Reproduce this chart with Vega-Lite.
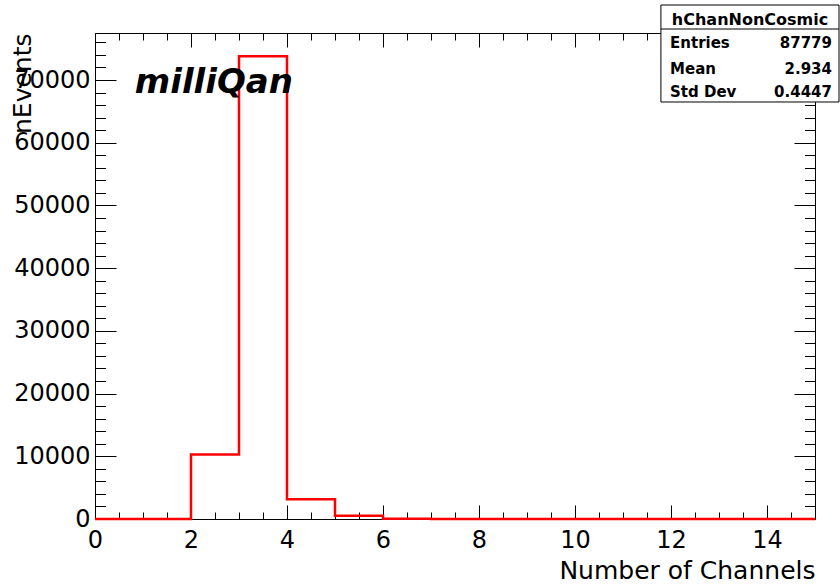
{
  "$schema": "https://vega.github.io/schema/vega-lite/v6.json",
  "width": 720,
  "height": 486,
  "autosize": {"type": "none"},
  "padding": {"left": 95, "top": 33, "right": 25, "bottom": 65},
  "background": "white",
  "config": {
    "font": "DejaVu Sans",
    "view": {"stroke": null},
    "axis": {
      "domainColor": "black",
      "domainWidth": 1,
      "ticks": true,
      "tickColor": "black",
      "tickWidth": 1,
      "labelColor": "black",
      "titleColor": "black",
      "grid": false,
      "labelFont": "DejaVu Sans",
      "titleFont": "DejaVu Sans",
      "titleFontWeight": "normal",
      "labelFontSize": 24,
      "titleFontSize": 25,
      "labelOverlap": false,
      "labelFlush": false
    }
  },
  "datasets": {
    "hist": [
      {"lo": 0, "n": 0},
      {"lo": 1, "n": 0},
      {"lo": 2, "n": 10300},
      {"lo": 3, "n": 73800},
      {"lo": 4, "n": 3150},
      {"lo": 5, "n": 500},
      {"lo": 6, "n": 29},
      {"lo": 7, "n": 0},
      {"lo": 8, "n": 0},
      {"lo": 9, "n": 0},
      {"lo": 10, "n": 0},
      {"lo": 11, "n": 0},
      {"lo": 12, "n": 0},
      {"lo": 13, "n": 0},
      {"lo": 14, "n": 0},
      {"lo": 15, "n": 0}
    ],
    "stats": [
      {"stat": "Entries", "val": "87779"},
      {"stat": "Mean", "val": "2.934"},
      {"stat": "Std Dev", "val": "0.4447"}
    ]
  },
  "resolve": {"axis": {"x": "independent", "y": "independent"}},
  "layer": [
    {
      "data": {"name": "hist"},
      "mark": {"type": "line", "interpolate": "step-after", "color": "#ff0000", "strokeWidth": 2.5},
      "encoding": {
        "x": {
          "field": "lo",
          "type": "quantitative",
          "scale": {"domain": [0, 15], "nice": false, "zero": false},
          "axis": {
            "orient": "bottom",
            "values": [0, 0.5, 1, 1.5, 2, 2.5, 3, 3.5, 4, 4.5, 5, 5.5, 6, 6.5, 7, 7.5, 8, 8.5, 9, 9.5, 10, 10.5, 11, 11.5, 12, 12.5, 13, 13.5, 14, 14.5],
            "tickSize": -7,
            "labelExpr": "datum.value % 2 === 0 ? format(datum.value, 'd') : ''",
            "labelPadding": 16,
            "title": "Number of Channels",
            "titleAnchor": "end",
            "titleY": 59,
            "titleBaseline": "alphabetic"
          }
        },
        "y": {
          "field": "n",
          "type": "quantitative",
          "scale": {"domain": [0, 77500], "nice": false},
          "axis": {
            "orient": "left",
            "values": [0, 2000, 4000, 6000, 8000, 10000, 12000, 14000, 16000, 18000, 20000, 22000, 24000, 26000, 28000, 30000, 32000, 34000, 36000, 38000, 40000, 42000, 44000, 46000, 48000, 50000, 52000, 54000, 56000, 58000, 60000, 62000, 64000, 66000, 68000, 70000, 72000, 74000, 76000],
            "tickSize": -10.5,
            "labelExpr": "datum.value % 10000 === 0 ? format(datum.value, 'd') : ''",
            "labelPadding": 15.5,
            "title": "nEvents",
            "titleAnchor": "end",
            "titleAngle": -90,
            "titleX": -65,
            "titleBaseline": "alphabetic"
          }
        }
      }
    },
    {
      "data": {"name": "hist"},
      "mark": {"type": "line", "interpolate": "step-after", "opacity": 0},
      "encoding": {
        "x": {
          "field": "lo",
          "type": "quantitative",
          "axis": {"orient": "bottom", "labels": false, "domain": false, "title": null, "values": [0, 2, 4, 6, 8, 10, 12, 14], "tickSize": -14}
        },
        "y": {
          "field": "n",
          "type": "quantitative",
          "axis": {"orient": "left", "labels": false, "domain": false, "title": null, "values": [0, 10000, 20000, 30000, 40000, 50000, 60000, 70000], "tickSize": -21}
        }
      }
    },
    {
      "data": {"name": "hist"},
      "mark": {"type": "line", "interpolate": "step-after", "opacity": 0},
      "encoding": {
        "x": {
          "field": "lo",
          "type": "quantitative",
          "axis": {
            "orient": "top",
            "labels": false,
            "title": null,
            "values": [0, 0.5, 1, 1.5, 2, 2.5, 3, 3.5, 4, 4.5, 5, 5.5, 6, 6.5, 7, 7.5, 8, 8.5, 9, 9.5, 10, 10.5, 11, 11.5, 12, 12.5, 13, 13.5, 14, 14.5],
            "tickSize": -7
          }
        },
        "y": {
          "field": "n",
          "type": "quantitative",
          "axis": {
            "orient": "right",
            "labels": false,
            "title": null,
            "values": [0, 2000, 4000, 6000, 8000, 10000, 12000, 14000, 16000, 18000, 20000, 22000, 24000, 26000, 28000, 30000, 32000, 34000, 36000, 38000, 40000, 42000, 44000, 46000, 48000, 50000, 52000, 54000, 56000, 58000, 60000, 62000, 64000, 66000, 68000, 70000, 72000, 74000, 76000],
            "tickSize": -10.5
          }
        }
      }
    },
    {
      "data": {"name": "hist"},
      "mark": {"type": "line", "interpolate": "step-after", "opacity": 0},
      "encoding": {
        "x": {
          "field": "lo",
          "type": "quantitative",
          "axis": {"orient": "top", "labels": false, "domain": false, "title": null, "values": [0, 2, 4, 6, 8, 10, 12, 14], "tickSize": -14}
        },
        "y": {
          "field": "n",
          "type": "quantitative",
          "axis": {"orient": "right", "labels": false, "domain": false, "title": null, "values": [0, 10000, 20000, 30000, 40000, 50000, 60000, 70000], "tickSize": -21}
        }
      }
    },
    {
      "data": {"values": [{"label": "milliQan"}]},
      "mark": {"type": "text", "align": "left", "baseline": "alphabetic", "fontSize": 34, "fontWeight": "bold", "fontStyle": "italic", "color": "black"},
      "encoding": {
        "x": {"datum": 0.83, "type": "quantitative", "axis": null},
        "y": {"datum": 67884, "type": "quantitative", "axis": null},
        "text": {"field": "label"}
      }
    },
    {
      "data": {"values": [{"name": "hChanNonCosmic"}]},
      "layer": [
        {
          "mark": {"type": "rect", "fill": "white", "stroke": "black", "strokeWidth": 1},
          "encoding": {
            "x": {"datum": 11.79, "type": "quantitative", "axis": null},
            "x2": {"datum": 15.5},
            "y": {"datum": 81965, "type": "quantitative", "axis": null},
            "y2": {"datum": 66497}
          }
        },
        {
          "mark": {"type": "rule", "color": "black", "strokeWidth": 1},
          "encoding": {
            "x": {"datum": 11.79, "type": "quantitative", "axis": null},
            "x2": {"datum": 15.5},
            "y": {"datum": 78137, "type": "quantitative", "axis": null}
          }
        },
        {
          "mark": {"type": "text", "align": "center", "baseline": "alphabetic", "fontSize": 16, "fontWeight": "bold", "color": "black"},
          "encoding": {
            "x": {"datum": 13.646, "type": "quantitative", "axis": null},
            "y": {"datum": 78776, "type": "quantitative", "axis": null},
            "text": {"field": "name"}
          }
        }
      ]
    },
    {
      "data": {"name": "stats"},
      "transform": [{"filter": "datum.stat === 'Entries'"}],
      "encoding": {
        "y": {"datum": 75108, "type": "quantitative", "axis": null}
      },
      "layer": [
        {
          "mark": {"type": "text", "align": "left", "baseline": "alphabetic", "fontSize": 15, "fontWeight": "bold", "color": "black"},
          "encoding": {"x": {"datum": 11.98, "type": "quantitative", "axis": null}, "text": {"field": "stat"}}
        },
        {
          "mark": {"type": "text", "align": "right", "baseline": "alphabetic", "fontSize": 15, "fontWeight": "bold", "color": "black"},
          "encoding": {"x": {"datum": 15.354, "type": "quantitative", "axis": null}, "text": {"field": "val"}}
        }
      ]
    },
    {
      "data": {"name": "stats"},
      "transform": [{"filter": "datum.stat === 'Mean'"}],
      "encoding": {
        "y": {"datum": 71041, "type": "quantitative", "axis": null}
      },
      "layer": [
        {
          "mark": {"type": "text", "align": "left", "baseline": "alphabetic", "fontSize": 15, "fontWeight": "bold", "color": "black"},
          "encoding": {"x": {"datum": 11.98, "type": "quantitative", "axis": null}, "text": {"field": "stat"}}
        },
        {
          "mark": {"type": "text", "align": "right", "baseline": "alphabetic", "fontSize": 15, "fontWeight": "bold", "color": "black"},
          "encoding": {"x": {"datum": 15.354, "type": "quantitative", "axis": null}, "text": {"field": "val"}}
        }
      ]
    },
    {
      "data": {"name": "stats"},
      "transform": [{"filter": "datum.stat === 'Std Dev'"}],
      "encoding": {
        "y": {"datum": 67294, "type": "quantitative", "axis": null}
      },
      "layer": [
        {
          "mark": {"type": "text", "align": "left", "baseline": "alphabetic", "fontSize": 15, "fontWeight": "bold", "color": "black"},
          "encoding": {"x": {"datum": 11.98, "type": "quantitative", "axis": null}, "text": {"field": "stat"}}
        },
        {
          "mark": {"type": "text", "align": "right", "baseline": "alphabetic", "fontSize": 15, "fontWeight": "bold", "color": "black"},
          "encoding": {"x": {"datum": 15.354, "type": "quantitative", "axis": null}, "text": {"field": "val"}}
        }
      ]
    }
  ]
}
